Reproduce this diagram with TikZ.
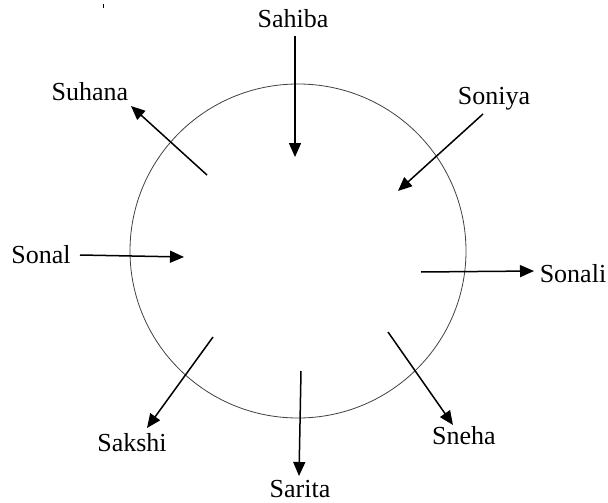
\documentclass[tikz,border=0pt]{standalone}
\usepackage{fontspec}
\setmainfont{Liberation Serif}
\usetikzlibrary{arrows.meta}
\begin{document}
\begin{tikzpicture}[x=1pt,y=-1pt,
  lbl/.style={font=\fontsize{26}{30}\selectfont, inner sep=0pt},
  arr/.style={line width=1.5pt, -{Triangle[length=14pt,width=12pt]}},
  ring/.style={draw=black!75, line width=0.8pt}]
\useasboundingbox (0,0) rectangle (608,503);
\draw[ring] (298,251) ellipse [x radius=168, y radius=167];
% labels
\node[lbl] (sahiba) at (293,19) {Sahiba};
\node[lbl] (suhana) at (90,92) {Suhana};
\node[lbl] (soniya) at (494,99) {Soniya};
\node[lbl] (sonal) at (41,255) {Sonal};
\node[lbl] (sonali) at (573,274) {Sonali};
\node[lbl] (sneha) at (464,436) {Sneha};
\node[lbl] (sarita) at (300,489) {Sarita};
\node[lbl] (sakshi) at (132,443) {Sakshi};
% arrow end points
\coordinate (a1) at (295,36);  \coordinate (b1) at (295,157);
\coordinate (a2) at (207,175); \coordinate (b2) at (131,106);
\coordinate (a3) at (483,114); \coordinate (b3) at (398,191);
\coordinate (a4) at (80,255);  \coordinate (b4) at (184,257);
\coordinate (a5) at (421,272); \coordinate (b5) at (534,271);
\coordinate (a6) at (388,332); \coordinate (b6) at (453,425);
\coordinate (a7) at (301,371); \coordinate (b7) at (299,476);
\coordinate (a8) at (213,337); \coordinate (b8) at (147,428);
\foreach \i in {1,...,8} \draw[arr] (a\i) -- (b\i);
% small stray mark
\coordinate (t1) at (103,4); \coordinate (t2) at (103,8);
\draw[line width=1pt] (t1) -- (t2);
\end{tikzpicture}
\end{document}
